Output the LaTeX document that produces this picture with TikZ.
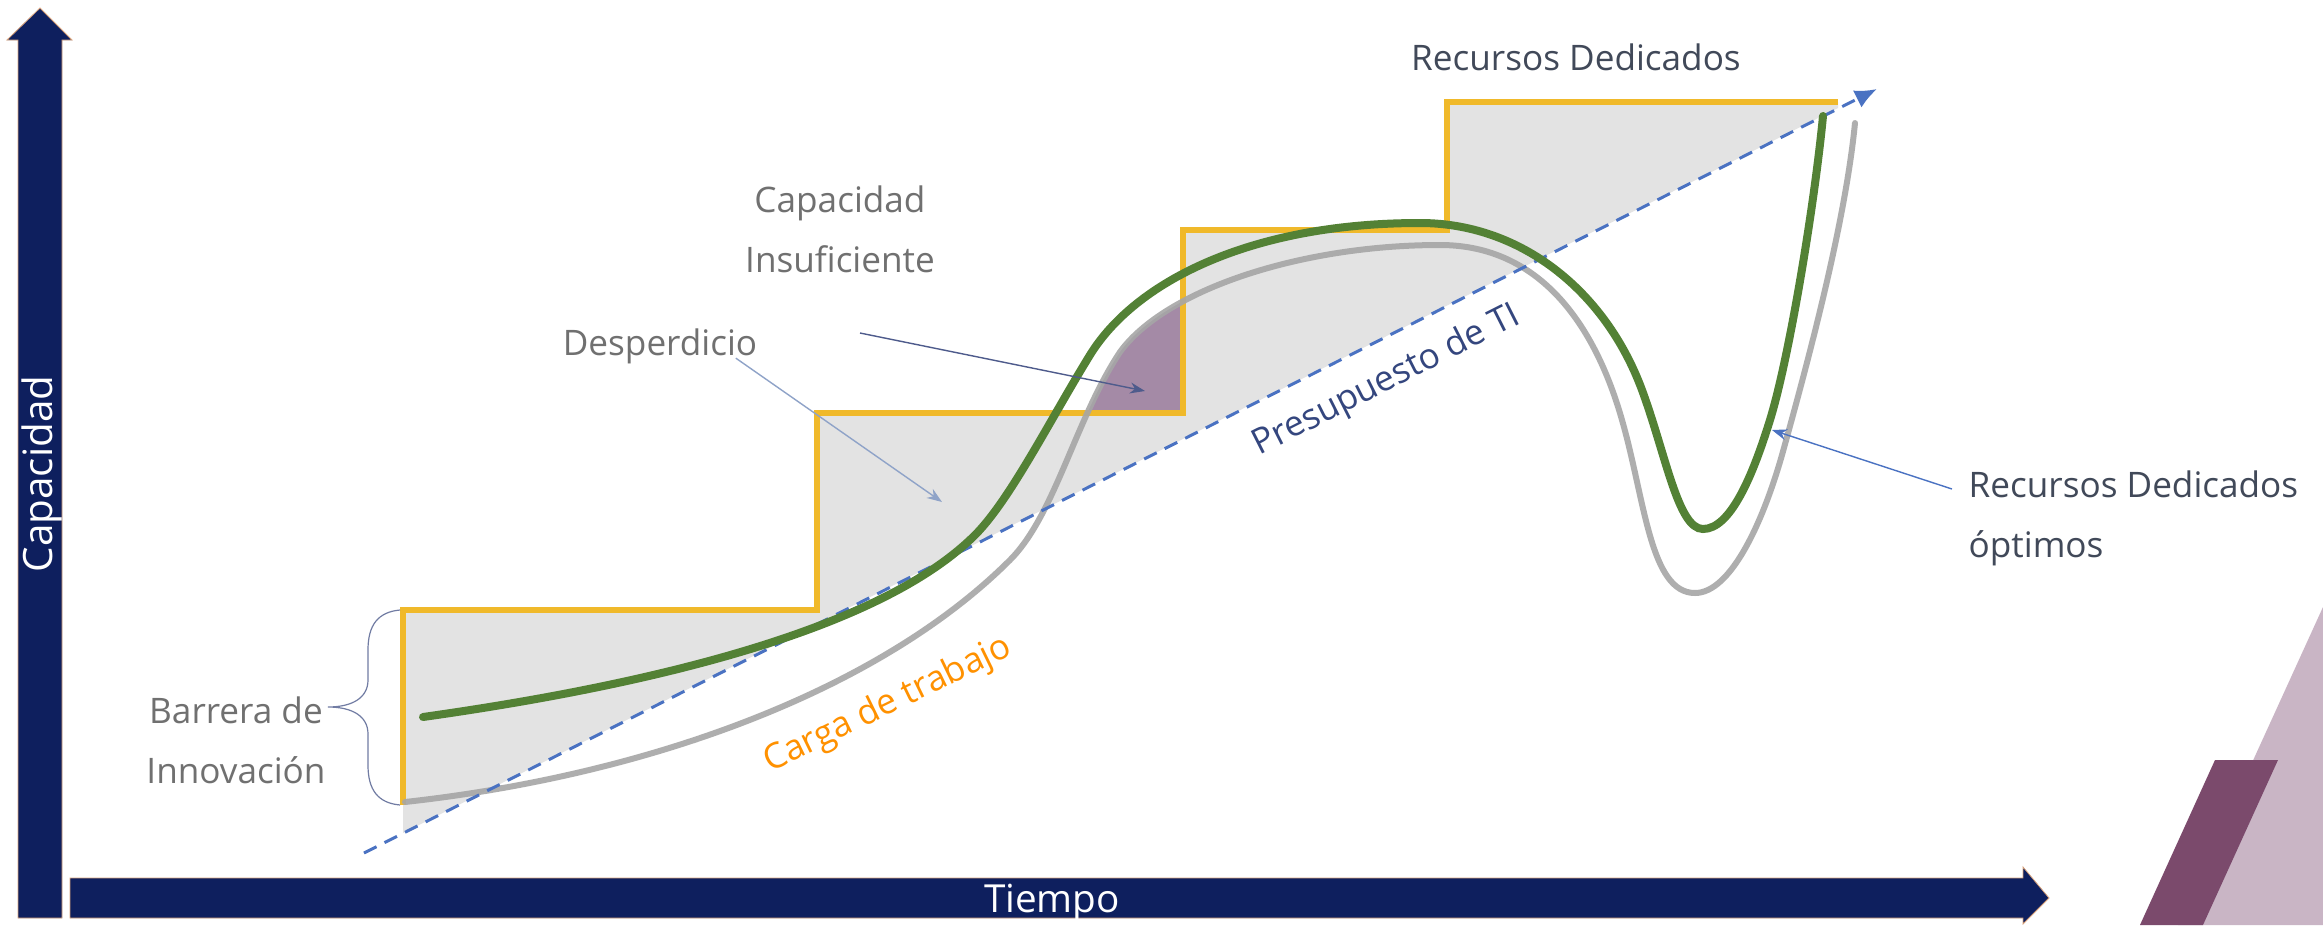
\documentclass[tikz,border=0pt]{standalone}
\usepackage{fontspec}
\setmainfont{Open Sans}
\usetikzlibrary{arrows.meta}
\definecolor{navy}{HTML}{0E1F5E}
\definecolor{axisedge}{HTML}{D9A27A}
\definecolor{txtgray}{HTML}{707070}
\definecolor{txtdark}{HTML}{414959}
\definecolor{presblue}{HTML}{34467E}
\definecolor{stepyellow}{HTML}{F0B92A}
\definecolor{fillgray}{HTML}{E3E3E3}
\definecolor{curvegray}{HTML}{A6A6A6}
\definecolor{curvegreen}{HTML}{538135}
\definecolor{budgetblue}{HTML}{4A72C2}
\definecolor{wastepurple}{HTML}{A48AA6}
\definecolor{lightpurple}{HTML}{C9B5C5}
\definecolor{darkpurple}{HTML}{7B4A6C}
\definecolor{workorange}{HTML}{FF9100}
\definecolor{callA}{HTML}{8FA3C8}
\definecolor{callB}{HTML}{4E5B8C}
\definecolor{callC}{HTML}{4A72C2}
\begin{document}
\begin{tikzpicture}[x=0.1mm,y=-0.1mm,
  lbl/.style={font=\fontsize{10}{17}\selectfont, text=txtgray, inner sep=0pt, align=center},
  axisshape/.style={fill=navy, draw=axisedge, line width=0.08mm},
  callout/.style={line width=0.14mm, -{Stealth[length=1.5mm,width=1.1mm]}},
  stepline/.style={draw=stepyellow, line width=0.55mm},
  greencurve/.style={draw=curvegreen, line width=0.8mm, line cap=round},
  graycurve/.style={draw=curvegray, line width=0.6mm, line cap=round, draw opacity=0.9},
  budget/.style={draw=budgetblue, line width=0.3mm, dash pattern=on 1.4mm off 0.9mm, -{Latex[length=2.2mm,width=1.9mm]}},
]
\useasboundingbox (0,0) rectangle (2323,925);
\fill[white] (0,0) rectangle (2323,925);

% decorative purple shapes
\fill[lightpurple] (2323,607) -- (2323,925) -- (2178,925) -- cycle;
\fill[darkpurple] (2215,760) -- (2278,760) -- (2203,925) -- (2140,925) -- cycle;

% axes
\draw[axisshape] (18,918) -- (18,40) -- (7,40) -- (40,8) -- (72,40) -- (62,40) -- (62,918) -- cycle;
\draw[axisshape] (70,878) -- (2023,878) -- (2023,867) -- (2049,898) -- (2023,924) -- (2023,918) -- (70,918) -- cycle;
\node[font=\fontsize{11}{13}\selectfont, text=white, inner sep=0pt, anchor=base] (tiempo) at (1052,912) {Tiempo};
\node[font=\fontsize{11.5}{13}\selectfont, text=white, inner sep=0pt, rotate=90] (capacidad) at (42,474) {Capacidad};

% budget line end points
\coordinate (b0) at (364,853);
\coordinate (b1) at (1877,89);

% grey waste area between stairs and budget line
\fill[fillgray] (403,805) -- (403,610) -- (817,610) -- (817,413) -- (1183,413) -- (1183,230) -- (1447,230) -- (1447,102) -- (1838,102) -- (1838,108) -- (403,833) -- cycle;

% insufficient capacity area (below workload curve)
\begin{scope}
\clip (405,802) .. controls (650,775) and (880,690) .. (1010,560)
  .. controls (1055,515) and (1075,420) .. (1120,352)
  .. controls (1165,290) and (1300,245) .. (1440,245)
  -- (1440,925) -- (400,925) -- cycle;
\fill[wastepurple] (1000,250) rectangle (1183,413);
\end{scope}

% stairs
\draw[stepline] (403,805) -- (403,610) -- (817,610) -- (817,413) -- (1183,413) -- (1183,230) -- (1447,230) -- (1447,102) -- (1838,102);

% workload curve (grey)
\draw[graycurve] (405,802) .. controls (650,775) and (880,690) .. (1010,560)
  .. controls (1055,515) and (1075,420) .. (1120,352)
  .. controls (1165,290) and (1300,245) .. (1440,245)
  .. controls (1540,245) and (1595,325) .. (1622,420)
  .. controls (1645,500) and (1650,593) .. (1695,593)
  .. controls (1730,593) and (1762,525) .. (1782,455)
  .. controls (1807,365) and (1845,225) .. (1855,123);

% budget dashed arrow
\draw[budget] (b0) -- (b1);

% dedicated resources curve (green)
\draw[greencurve] (423,717) .. controls (650,685) and (880,630) .. (975,535)
  .. controls (1010,500) and (1050,420) .. (1090,355)
  .. controls (1135,282) and (1250,223) .. (1420,223)
  .. controls (1520,223) and (1605,290) .. (1642,390)
  .. controls (1666,455) and (1678,529) .. (1703,529)
  .. controls (1730,529) and (1752,478) .. (1770,420)
  .. controls (1790,355) and (1815,200) .. (1823,116);

% brace
\draw[draw=callB!80, line width=0.12mm] (400,610) .. controls (378,612) and (368,625) .. (368,650) -- (368,680) .. controls (368,698) and (352,707) .. (328,707) .. controls (352,707) and (368,716) .. (368,734) -- (368,765) .. controls (368,790) and (378,803) .. (400,805);

% labels
\node[lbl, text=txtdark, anchor=base] (rdtop) at (1576,70) {Recursos Dedicados};
\node[lbl] (capins) at (840,229) {Capacidad\\Insuficiente};
\node[lbl, anchor=base] (desp) at (660,355) {Desperdicio};
\node[lbl] (barrera) at (236,740) {Barrera de\\Innovación};
\node[lbl, text=presblue, rotate=26.8] (pres) at (1387,381) {Presupuesto de TI};
\node[lbl, text=workorange, rotate=26] (carga) at (888,705) {Carga de trabajo};
\node[lbl, text=txtdark, align=left, anchor=north west] (opt) at (1968,470) {Recursos Dedicados\\óptimos};

% callout arrows
\coordinate (despTip) at (942,502);
\coordinate (capStart) at (860,333);
\coordinate (capTip) at (1145,391);
\coordinate (optStart) at (1952,489);
\coordinate (optTip) at (1772,430);
\draw[callout, draw=callA] ([xshift=-2.2mm,yshift=0.6mm]desp.south east) -- (despTip);
\draw[callout, draw=callB] (capStart) -- (capTip);
\draw[callout, draw=callC] (optStart) -- (optTip);
\end{tikzpicture}
\end{document}
